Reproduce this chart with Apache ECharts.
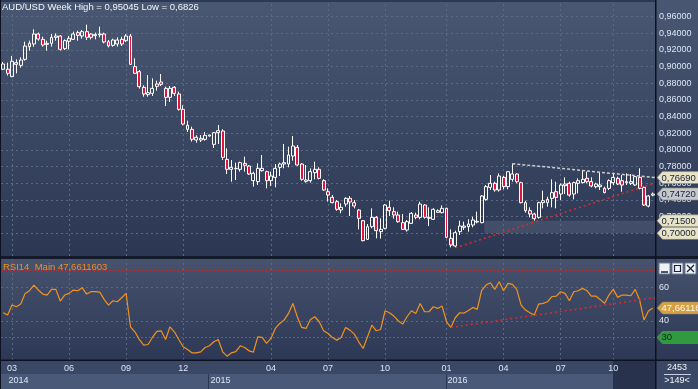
<!DOCTYPE html>
<html><head><meta charset="utf-8">
<script src="https://cdn.jsdelivr.net/npm/echarts@6/dist/echarts.min.js"></script>
<style>html,body{margin:0;padding:0;background:#2c3854;}#c{width:698px;height:389px;}</style>
</head><body><div id="c"></div><script>
// ---- DATA ----
const opens = [0.8969,0.8969,0.8880,0.9028,0.9016,0.9088,0.9240,0.9272,0.9392,0.9328,
0.9268,0.9280,0.9352,0.9368,0.9216,0.9304,0.9328,0.9408,0.9368,0.9420,
0.9392,0.9372,0.9384,0.9392,0.9300,0.9256,0.9272,0.9328,0.9312,0.9368,
0.9000,0.8940,0.8752,0.8664,0.8680,0.8764,0.8816,0.8740,0.8632,0.8752,
0.8672,0.8488,0.8296,0.8248,0.8120,0.8120,0.8128,0.8168,0.8068,0.8208,
0.8228,0.7888,0.7768,0.7776,0.7768,0.7840,0.7808,0.7632,0.7620,0.7752,
0.7740,0.7632,0.7672,0.7792,0.7832,0.7832,0.7928,0.8032,0.7832,0.7624,
0.7632,0.7728,0.7768,0.7632,0.7500,0.7432,0.7380,0.7280,0.7352,0.7420,
0.7368,0.7280,0.7152,0.6928,0.7080,0.7192,0.7020,0.7060,0.7312,0.7260,
0.7220,0.7128,0.7040,0.7120,0.7220,0.7192,0.7340,0.7180,0.7168,0.7252,
0.7248,0.7300,0.6940,0.6848,0.7020,0.7072,0.7080,0.7100,0.7136,0.7128,
0.7408,0.7552,0.7600,0.7520,0.7672,0.7560,0.7648,0.7712,0.7608,0.7368,
0.7272,0.7232,0.7192,0.7368,0.7368,0.7420,0.7500,0.7472,0.7572,0.7600,
0.7472,0.7600,0.7608,0.7660,0.7620,0.7560,0.7560,0.7540,0.7540,0.7608,
0.7660,0.7632,0.7608,0.7600,0.7580,0.7672,0.7552,0.7328,0.7458];
const closes = [0.9032,0.8920,0.9064,0.9048,0.9080,0.9248,0.9280,0.9392,0.9332,0.9260,
0.9280,0.9352,0.9368,0.9208,0.9312,0.9340,0.9392,0.9376,0.9420,0.9352,
0.9352,0.9384,0.9392,0.9296,0.9248,0.9320,0.9320,0.9272,0.9368,0.9028,
0.8920,0.8760,0.8672,0.8688,0.8740,0.8792,0.8788,0.8632,0.8740,0.8680,
0.8488,0.8312,0.8248,0.8128,0.8152,0.8140,0.8176,0.8180,0.8208,0.8232,
0.7912,0.7768,0.7792,0.7780,0.7848,0.7816,0.7712,0.7720,0.7780,0.7780,
0.7632,0.7688,0.7780,0.7832,0.7848,0.7940,0.8048,0.7820,0.7648,0.7640,
0.7740,0.7768,0.7660,0.7520,0.7460,0.7368,0.7288,0.7312,0.7420,0.7376,
0.7328,0.7180,0.6912,0.7080,0.7192,0.7032,0.7048,0.7340,0.7272,0.7220,
0.7140,0.7048,0.7140,0.7240,0.7192,0.7352,0.7192,0.7192,0.7288,0.7272,
0.7300,0.6952,0.6860,0.7008,0.7088,0.7088,0.7112,0.7160,0.7144,0.7448,
0.7560,0.7600,0.7520,0.7688,0.7560,0.7740,0.7712,0.7620,0.7368,0.7272,
0.7232,0.7176,0.7368,0.7392,0.7408,0.7488,0.7432,0.7580,0.7592,0.7460,
0.7608,0.7632,0.7648,0.7620,0.7568,0.7592,0.7580,0.7488,0.7632,0.7672,
0.7592,0.7580,0.7620,0.7620,0.7680,0.7540,0.7340,0.7448,0.7472];
const lows = [0.8960,0.8892,0.8875,0.8920,0.8988,0.9072,0.9192,0.9240,0.9312,0.9240,
0.9192,0.9240,0.9312,0.9192,0.9200,0.9208,0.9320,0.9312,0.9336,0.9320,
0.9328,0.9328,0.9352,0.9280,0.9232,0.9240,0.9240,0.9248,0.9296,0.9020,
0.8912,0.8736,0.8640,0.8640,0.8648,0.8712,0.8768,0.8528,0.8576,0.8648,
0.8472,0.8296,0.8216,0.8100,0.8088,0.8096,0.8112,0.8160,0.8024,0.8072,
0.7880,0.7712,0.7620,0.7640,0.7740,0.7740,0.7700,0.7560,0.7580,0.7740,
0.7540,0.7568,0.7552,0.7688,0.7780,0.7792,0.7872,0.7808,0.7632,0.7608,
0.7608,0.7648,0.7648,0.7512,0.7380,0.7360,0.7272,0.7240,0.7320,0.7208,
0.7300,0.7048,0.6904,0.6920,0.7060,0.6940,0.6936,0.7048,0.7208,0.7176,
0.7128,0.7040,0.7020,0.7112,0.7168,0.7168,0.7176,0.7088,0.7160,0.7248,
0.7240,0.6940,0.6832,0.6826,0.6980,0.7040,0.7020,0.7072,0.7120,0.7120,
0.7392,0.7520,0.7500,0.7500,0.7528,0.7528,0.7620,0.7600,0.7360,0.7248,
0.7192,0.7152,0.7176,0.7300,0.7320,0.7312,0.7300,0.7400,0.7472,0.7440,
0.7408,0.7480,0.7600,0.7600,0.7552,0.7540,0.7520,0.7480,0.7520,0.7580,
0.7580,0.7500,0.7580,0.7580,0.7568,0.7528,0.7328,0.7312,0.7445];
const highs = [0.9056,0.9048,0.9128,0.9088,0.9112,0.9300,0.9312,0.9448,0.9408,0.9360,
0.9312,0.9392,0.9400,0.9380,0.9328,0.9368,0.9420,0.9432,0.9440,0.95045,
0.9400,0.9408,0.9480,0.9408,0.9320,0.9336,0.9352,0.9360,0.9392,0.9392,
0.9100,0.8960,0.8776,0.8900,0.8860,0.8832,0.8912,0.8760,0.8768,0.8768,
0.8700,0.8536,0.8352,0.8280,0.8176,0.8180,0.8216,0.8184,0.8216,0.8300,
0.8248,0.8020,0.7880,0.7848,0.7860,0.7920,0.7820,0.7740,0.7840,0.7940,
0.7752,0.7740,0.7832,0.7848,0.8072,0.8040,0.8168,0.8060,0.7840,0.7820,
0.7780,0.7860,0.7792,0.7648,0.7540,0.7460,0.7400,0.7360,0.7432,0.7448,
0.7400,0.7288,0.7160,0.7112,0.7300,0.7208,0.7180,0.7352,0.7392,0.7312,
0.7260,0.7232,0.7160,0.7256,0.7248,0.7380,0.7352,0.7312,0.7300,0.7288,
0.7336,0.7308,0.7048,0.7032,0.7152,0.7140,0.7168,0.7200,0.7260,0.7460,
0.7580,0.7700,0.7620,0.7720,0.7688,0.7740,0.7836,0.7720,0.7620,0.7392,
0.7312,0.7248,0.7380,0.7512,0.7440,0.7648,0.7620,0.7600,0.7672,0.7620,
0.7620,0.7660,0.7760,0.7740,0.7672,0.7608,0.7728,0.7560,0.7648,0.7728,
0.7680,0.7700,0.7720,0.7712,0.7688,0.7780,0.7560,0.7460,0.7490];
const rsiValues = [44.8,43.4,49.4,48.4,50,56.4,58,61.4,58.4,56,
55.4,58.8,58.8,51.8,55.4,56.4,58.4,58,59.8,56,
57.4,57.4,57.2,52.8,49.4,52,51.4,53.8,56.4,36.4,
33.4,28.8,25.4,25.8,30,33.6,34,28.8,36.4,33.4,
28.8,24.4,22.8,20.8,20.8,21.4,24,25,27.4,28.8,
21.4,18.8,20.8,21.5,25,24,22,21.2,30.4,30,
26.4,29.4,35.4,38.4,40.4,44.4,50.4,42.4,36,35.4,
40.8,42.4,39.4,34,32.4,30,28.4,30,36,34.4,
32,27.4,23.4,30.4,37.4,34,34.8,46,44.8,42.8,
40,38,42.4,46,44.4,50.4,45.4,45.4,48.4,47.4,
48.8,39.4,36,41.8,44.8,44.6,46.2,48,46.8,58,
61.4,62.8,58.8,63.4,58,62.4,61.8,58.8,49.4,46.4,
44.8,43.4,50,50.4,51.4,54.4,54.8,57.4,56.4,52,
57.4,58,59.4,58,54.8,54.8,52.8,50.4,55.4,58.8,
54,55.4,55.4,55,58.8,52.4,40.4,45.8,47.6611603];
const priceTicks = [0.70,0.72,0.74,0.76,0.78,0.80,0.82,0.84,0.86,0.88,0.90,0.92,0.94,0.96];
const rsiTicks = [40,60];
const rsiLevels = {over:70, under:30};
const monthIdx  = [2,15,28,41,61,74,87,101,114,127,139];
const monthText = ['03','06','09','12','04','07','10','01','04','07','10'];
const yearIdx  = [1,47,101];
const yearText = ['2014','2015','2016'];
const whiteTrend = [[116,0.7836],[148.5,0.7669]];
const redTrend   = [[103,0.6826],[148.5,0.7605]];
const rsiTrend   = [[102,36],[148.5,53.8]];
const zone = {x0:109.6, x1:148.5, hi:0.715, lo:0.70};
const lastPrice = 0.7472;
const lastRsi = 47.6611603;
const titleText = 'AUD/USD Week High = 0,95045 Low = 0,6826';
const rsiTitle = 'RSI14  Main 47,6611603';

// ---- BUILD ----
const cats = opens.map((_, i) => String(i));
const candles = opens.map((o, i) => [o, closes[i], lows[i], highs[i]]);
const fmt5 = v => v.toFixed(5).replace('.', ',');
const FONT = 'Liberation Sans';
const LBL = '#dbe5f5';
const GRIDC = '#5d6a86';
const grad = (a, b) => new echarts.graphic.LinearGradient(0, 0, 0, 1, [{offset:0, color:a},{offset:1, color:b}]);
const arrowPath = 'path://M0,6 L6,0 L46,0 L46,12 L6,12 Z';
const box = (x, y, txt, fill, tcol) => ({
  coord:[x, y], name: txt, symbol: arrowPath, symbolSize:[42,12], symbolOffset:[23,0],
  itemStyle:{color: fill, borderColor:'#8a8a70', borderWidth:0.5},
  label:{show:true, position:[5,1.5], formatter: txt, color: tcol, fontSize:9.5, fontFamily:FONT}
});

const chart = echarts.init(document.getElementById('c'), null, {renderer:'canvas'});
const W = 698;
const btn = (x) => ({type:'rect', shape:{x:x, y:263, width:11, height:11}, style:{fill:'#eef2f7', stroke:'#6d7c96', lineWidth:1}, z:20});
chart.setOption({
  animation:false,
  backgroundColor:'#2c3854',
  title:[
    {text:titleText, left:2, top:2, padding:0, textStyle:{color:'#f2f5fa', fontSize:9.5, fontWeight:'normal', fontFamily:FONT}},
    {text:rsiTitle, left:3, top:262, padding:0, textStyle:{color:'#ee8c2a', fontSize:9.5, fontWeight:'normal', fontFamily:FONT}}
  ],
  grid:[
    {left:1, right:43, top:2, height:254, show:true, borderWidth:0, backgroundColor: grad('#4a5772','#2b3753')},
    {left:1, right:43, top:259, height:101, show:true, borderWidth:0, backgroundColor: grad('#47536d','#2c3855')}
  ],
  xAxis:[
    {type:'category', gridIndex:0, data:cats, boundaryGap:true, show:false},
    {type:'value', gridIndex:0, min:-0.5, max:148.5, show:false, position:'top'},
    {type:'category', gridIndex:1, data:cats, boundaryGap:true, position:'bottom',
      axisLine:{show:false}, axisTick:{show:false}, splitLine:{show:false},
      axisLabel:{interval:(i)=>monthIdx.indexOf(i)>=0, formatter:(v,i)=>monthText[monthIdx.indexOf(i)], color:LBL, fontSize:9, fontFamily:FONT, margin:4}},
    {type:'value', gridIndex:1, min:-0.5, max:148.5, show:false, position:'top'},
    {type:'category', gridIndex:1, data:cats, boundaryGap:true, position:'bottom', offset:12,
      axisLine:{show:false}, axisTick:{show:false}, splitLine:{show:false},
      axisLabel:{interval:(i)=>yearIdx.indexOf(i)>=0, formatter:(v,i)=>yearText[yearIdx.indexOf(i)], align:'left', padding:[0,0,0,1], color:LBL, fontSize:9, fontFamily:FONT, margin:4}}
  ],
  yAxis:[
    {type:'value', gridIndex:0, position:'right', min:0.6728, max:0.9776, scale:true,
      axisLine:{show:false}, axisTick:{show:false}, splitLine:{show:false},
      axisLabel:{customValues:priceTicks, formatter:fmt5, color:LBL, fontSize:9, fontFamily:FONT, margin:4}},
    {type:'value', gridIndex:1, position:'right', min:16.5, max:77,
      axisLine:{show:false}, axisTick:{show:false}, splitLine:{show:false},
      axisLabel:{customValues:rsiTicks, color:LBL, fontSize:9, fontFamily:FONT, margin:4}}
  ],
  series:[
    {type:'candlestick', xAxisIndex:0, yAxisIndex:0, data:candles, barWidth:3.4,
      itemStyle:{color:'rgba(0,0,0,0)', color0:'#e0143c', borderColor:'#ffffff', borderColor0:'#ffffff', borderWidth:1},
      markLine:{silent:true, symbol:'none', z:1, label:{show:false},
        lineStyle:{color:GRIDC, type:[2,3], width:1},
        data: priceTicks.map(v=>({yAxis:v})).concat(monthIdx.map(i=>({xAxis:i})))}
    },
    {type:'line', xAxisIndex:1, yAxisIndex:0, data:whiteTrend, symbol:'none', z:3,
      lineStyle:{color:'#c9ccd3', width:1.5, type:[3,2]},
      markArea:{silent:true, itemStyle:{color:'rgba(150,160,180,0.2)'},
        data:[[{coord:[zone.x0, zone.hi]},{coord:[zone.x1, zone.lo]}]]},
      markPoint:{z:10, data:[
        box(148.5, whiteTrend[1][1], fmt5(whiteTrend[1][1]), '#e8e3c6', '#17213b'),
        box(148.5, lastPrice, fmt5(lastPrice), '#c4c7cc', '#17213b'),
        box(148.5, zone.hi, fmt5(zone.hi), '#e8e3c6', '#17213b'),
        box(148.5, zone.lo, fmt5(zone.lo), '#e8e3c6', '#17213b')
      ]}
    },
    {type:'line', xAxisIndex:1, yAxisIndex:0, data:redTrend, symbol:'none', z:3,
      lineStyle:{color:'#e02a2a', width:1.5, type:[2,3]}},
    {type:'line', xAxisIndex:2, yAxisIndex:1, data:rsiValues, symbol:'none', z:3,
      lineStyle:{color:'#f2921e', width:1.2},
      markLine:{silent:true, symbol:'none', z:1, label:{show:false},
        data: rsiTicks.map(v=>({yAxis:v, lineStyle:{color:GRIDC, type:[2,3], width:1}}))
          .concat(monthIdx.map(i=>({xAxis:i, lineStyle:{color:GRIDC, type:[2,3], width:1}})))
          .concat([{yAxis:rsiLevels.over, lineStyle:{color:'#c8282a', type:[2,2], width:1}},
                   {yAxis:rsiLevels.under, lineStyle:{color:'#2a8a32', type:[2,2], width:1}}])}
    },
    {type:'line', xAxisIndex:3, yAxisIndex:1, data:rsiTrend, symbol:'none', z:3,
      lineStyle:{color:'#e02a2a', width:1.5, type:[2,3]},
      markPoint:{z:10, data:[
        box(148.5, lastRsi, lastRsi.toFixed(7).replace('.', ','), '#d6a144', '#fff8e6'),
        box(148.5, rsiLevels.under, String(rsiLevels.under), '#2f9a40', '#0f2a12')
      ]}
    }
  ],
  graphic:{elements:[
    {type:'rect', shape:{x:656, y:0, width:42, height:256}, style:{fill: grad('#4a5772','#2b3753')}, z:-1, silent:true},
    {type:'rect', shape:{x:656, y:259, width:42, height:101}, style:{fill: grad('#47536d','#2c3855')}, z:-1, silent:true},
    {type:'rect', shape:{x:0, y:360, width:655, height:14}, style:{fill:'#3a4765'}, z:-1, silent:true},
    {type:'rect', shape:{x:0, y:374, width:655, height:15}, style:{fill:'#4b5979'}, z:-1, silent:true},
    {type:'rect', shape:{x:208, y:374, width:1, height:15}, style:{fill:'#2c3753'}, z:-1, silent:true},
    {type:'rect', shape:{x:446, y:374, width:1, height:15}, style:{fill:'#2c3753'}, z:-1, silent:true},
    {type:'rect', shape:{x:613, y:361, width:42, height:28}, style:{fill:'#28324d'}, z:-1, silent:true},
    {type:'rect', shape:{x:656, y:360, width:42, height:29}, style:{fill:'#3a4765'}, z:-1, silent:true},
    {type:'rect', shape:{x:0, y:256, width:W, height:3}, style:{fill:'#121a2b'}, z:30, silent:true},
    {type:'rect', shape:{x:0, y:359.5, width:W, height:1.5}, style:{fill:'#0c1220'}, z:30, silent:true},
    {type:'rect', shape:{x:655, y:0, width:1.5, height:389}, style:{fill:'#0c1220'}, z:30, silent:true},
    {type:'rect', shape:{x:0, y:0, width:1, height:389}, style:{fill:'#0c1220'}, z:30, silent:true},
    {type:'line', shape:{x1:664, y1:374.5, x2:691, y2:374.5}, style:{stroke:'#c8d2e4', lineWidth:1}, z:30, silent:true},
    {type:'text', x:677, y:368, style:{text:'2453', fill:'#f0f4fa', fontSize:9, fontFamily:FONT, align:'center', verticalAlign:'middle'}, z:30},
    {type:'text', x:677, y:381, style:{text:'>149<', fill:'#f0f4fa', fontSize:9, fontFamily:FONT, align:'center', verticalAlign:'middle'}, z:30},
    btn(659), btn(672), btn(685),
    {type:'line', shape:{x1:661, y1:272, x2:668, y2:272}, style:{stroke:'#1a2238', lineWidth:1.5}, z:21},
    {type:'rect', shape:{x:674.5, y:265.5, width:6, height:6}, style:{fill:'none', stroke:'#1a2238', lineWidth:1.2}, z:21},
    {type:'line', shape:{x1:687, y1:265, x2:694, y2:272}, style:{stroke:'#1a2238', lineWidth:1.2}, z:21},
    {type:'line', shape:{x1:694, y1:265, x2:687, y2:272}, style:{stroke:'#1a2238', lineWidth:1.2}, z:21}
  ]}
});
</script></body></html>
